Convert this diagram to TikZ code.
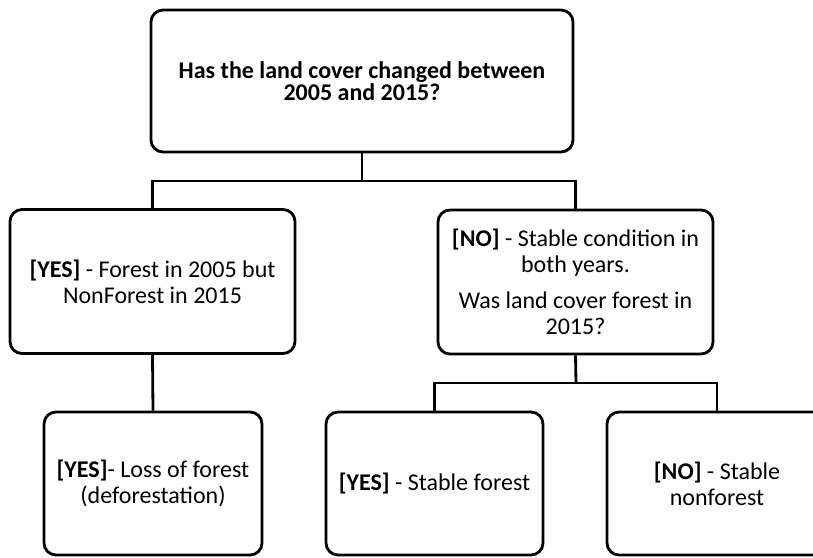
\documentclass[tikz,border=0pt]{standalone}
\usepackage{fontspec}
\setmainfont{Carlito}
\tikzset{
  box/.style={draw, line width=2.8pt, rounded corners=12pt, align=center,
    inner sep=2pt, font=\fontsize{24}{26}\selectfont},
  link/.style={line width=2.8pt}
}
\begin{document}
\begin{tikzpicture}[x=1pt, y=-1pt]
    \useasboundingbox (0,0) rectangle (813,557);
    \clip (0,0) rectangle (813,557);

    \node[box, minimum width=422pt, minimum height=142pt, font=\fontsize{24}{18.5}\selectfont\bfseries] (changed) at (362, 81)
        {Has the land cover changed between\\2005 and 2015?};
    \node[box, minimum width=285pt, minimum height=144pt] (yes) at (152.5, 281.5)
        {\textbf{[YES]} - Forest in 2005 but\\NonForest in 2015};
    \node[box, minimum width=275pt, minimum height=144pt] (no) at (575.5, 282)
        {\textbf{[NO]} - Stable condition in\\both years.\\[10pt]Was land cover forest in\\2015?};
    \node[box, minimum width=218pt, minimum height=143pt] (loss) at (153, 483.5)
        {\textbf{[YES]}- Loss of forest\\(deforestation)};
    \node[box, minimum width=217pt, minimum height=143pt] (stable) at (434.5, 483.5)
        {\textbf{[YES]} - Stable forest};
    \node[box, minimum width=220pt, minimum height=143pt] (nonforest) at (717, 483.5)
        {\textbf{[NO]} - Stable\\nonforest};

    \coordinate (bus) at (362, 181);
    \coordinate (subbus) at (576, 383);

    \draw[link] (changed.south) -- (bus);
    \draw[link] (yes.north) -- (yes.north |- bus) -- (no.north |- bus) -- (no.north);
    \draw[link] (yes.south) -- (loss.north);
    \draw[link] (no.south) -- (subbus);
    \draw[link] (stable.north) -- (stable.north |- subbus) -- (nonforest.north |- subbus) -- (nonforest.north);
\end{tikzpicture}
\end{document}
